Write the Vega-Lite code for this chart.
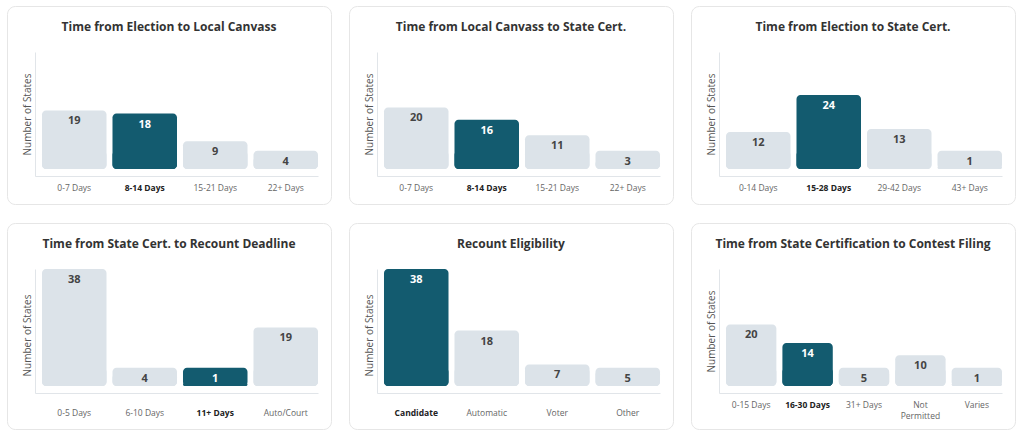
{
  "$schema": "https://vega.github.io/schema/vega-lite/v6.json",
  "background": "white",
  "padding": {"left": 6, "top": 5, "right": 10, "bottom": 20},
  "bounds": "flush",
  "datasets": {
    "p1": [
      {"cat": "0-7 Days", "n": 19, "grp": "other"},
      {"cat": "8-14 Days", "n": 18, "grp": "highlight"},
      {"cat": "15-21 Days", "n": 9, "grp": "other"},
      {"cat": "22+ Days", "n": 4, "grp": "other"}
    ],
    "p2": [
      {"cat": "0-7 Days", "n": 20, "grp": "other"},
      {"cat": "8-14 Days", "n": 16, "grp": "highlight"},
      {"cat": "15-21 Days", "n": 11, "grp": "other"},
      {"cat": "22+ Days", "n": 3, "grp": "other"}
    ],
    "p3": [
      {"cat": "0-14 Days", "n": 12, "grp": "other"},
      {"cat": "15-28 Days", "n": 24, "grp": "highlight"},
      {"cat": "29-42 Days", "n": 13, "grp": "other"},
      {"cat": "43+ Days", "n": 1, "grp": "other"}
    ],
    "p4": [
      {"cat": "0-5 Days", "n": 38, "grp": "other"},
      {"cat": "6-10 Days", "n": 4, "grp": "other"},
      {"cat": "11+ Days", "n": 1, "grp": "highlight"},
      {"cat": "Auto/Court", "n": 19, "grp": "other"}
    ],
    "p5": [
      {"cat": "Candidate", "n": 38, "grp": "highlight"},
      {"cat": "Automatic", "n": 18, "grp": "other"},
      {"cat": "Voter", "n": 7, "grp": "other"},
      {"cat": "Other", "n": 5, "grp": "other"}
    ],
    "p6": [
      {"cat": "0-15 Days", "n": 20, "grp": "other"},
      {"cat": "16-30 Days", "n": 14, "grp": "highlight"},
      {"cat": "31+ Days", "n": 5, "grp": "other"},
      {"cat": "Not Permitted", "n": 10, "grp": "other"},
      {"cat": "Varies", "n": 1, "grp": "other"}
    ]
  },
  "concat": [
    {
      "width": 324, "height": 198,
      "title": "Time from Election to Local Canvass",
      "data": {"name": "p1"},
      "layer": [
        {"mark": {"type": "bar", "cornerRadiusEnd": 4},
         "encoding": {
           "x": {"field": "cat", "type": "nominal", "sort": null,
                 "scale": {"type": "band", "range": [28, 311], "paddingInner": 0.085, "paddingOuter": 0.0496, "align": 1},
                 "axis": {"offset": -28, "labelPadding": 7,
                          "labelFontWeight": {"condition": {"test": "datum.value === '8-14 Days'", "value": "bold"}, "value": "normal"},
                          "labelColor": {"condition": {"test": "datum.value === '8-14 Days'", "value": "#222222"}, "value": "#666666"}}},
           "y": {"datum": 5.9, "type": "quantitative", "scale": {"domain": [-2.27, 38], "range": [170, 46], "nice": false, "zero": false}, "axis": {"title": "Number of States"}},
           "y2": {"datum": 0},
           "color": {"field": "grp", "type": "nominal", "scale": {"domain": ["other", "highlight"], "range": ["#dce3e9", "#135b6f"]}, "legend": null}
         }},
        {"mark": {"type": "bar", "cornerRadiusEnd": 4},
         "encoding": {
           "x": {"field": "cat", "type": "nominal", "sort": null},
           "y": {"field": "n", "type": "quantitative", "scale": {"domain": [-2.27, 38], "range": [170, 46], "nice": false, "zero": false}, "axis": null},
           "y2": {"datum": 0},
           "color": {"field": "grp", "type": "nominal", "scale": {"domain": ["other", "highlight"], "range": ["#dce3e9", "#135b6f"]}, "legend": null}
         }},
        {"mark": {"type": "text", "baseline": "top", "dy": 5, "fontWeight": "bold", "fontSize": 11},
         "encoding": {
           "x": {"field": "cat", "type": "nominal", "sort": null},
           "y": {"field": "n", "type": "quantitative", "scale": {"domain": [5.9, 38], "range": [144.8, 46], "nice": false, "zero": false, "clamp": true}, "axis": null},
           "text": {"field": "n", "type": "quantitative"},
           "color": {"field": "grp", "type": "nominal", "scale": {"domain": ["other", "highlight"], "range": ["#444444", "#ffffff"]}, "legend": null}
         }}
      ],
      "resolve": {"scale": {"y": "independent", "color": "independent"}}
    },
    {
      "width": 324, "height": 198,
      "title": "Time from Local Canvass to State Cert.",
      "data": {"name": "p2"},
      "layer": [
        {"mark": {"type": "bar", "cornerRadiusEnd": 4},
         "encoding": {
           "x": {"field": "cat", "type": "nominal", "sort": null,
                 "scale": {"type": "band", "range": [28, 311], "paddingInner": 0.085, "paddingOuter": 0.0496, "align": 1},
                 "axis": {"offset": -28, "labelPadding": 7,
                          "labelFontWeight": {"condition": {"test": "datum.value === '8-14 Days'", "value": "bold"}, "value": "normal"},
                          "labelColor": {"condition": {"test": "datum.value === '8-14 Days'", "value": "#222222"}, "value": "#666666"}}},
           "y": {"datum": 5.9, "type": "quantitative", "scale": {"domain": [-2.27, 38], "range": [170, 46], "nice": false, "zero": false}, "axis": {"title": "Number of States"}},
           "y2": {"datum": 0},
           "color": {"field": "grp", "type": "nominal", "scale": {"domain": ["other", "highlight"], "range": ["#dce3e9", "#135b6f"]}, "legend": null}
         }},
        {"mark": {"type": "bar", "cornerRadiusEnd": 4},
         "encoding": {
           "x": {"field": "cat", "type": "nominal", "sort": null},
           "y": {"field": "n", "type": "quantitative", "scale": {"domain": [-2.27, 38], "range": [170, 46], "nice": false, "zero": false}, "axis": null},
           "y2": {"datum": 0},
           "color": {"field": "grp", "type": "nominal", "scale": {"domain": ["other", "highlight"], "range": ["#dce3e9", "#135b6f"]}, "legend": null}
         }},
        {"mark": {"type": "text", "baseline": "top", "dy": 5, "fontWeight": "bold", "fontSize": 11},
         "encoding": {
           "x": {"field": "cat", "type": "nominal", "sort": null},
           "y": {"field": "n", "type": "quantitative", "scale": {"domain": [5.9, 38], "range": [144.8, 46], "nice": false, "zero": false, "clamp": true}, "axis": null},
           "text": {"field": "n", "type": "quantitative"},
           "color": {"field": "grp", "type": "nominal", "scale": {"domain": ["other", "highlight"], "range": ["#444444", "#ffffff"]}, "legend": null}
         }}
      ],
      "resolve": {"scale": {"y": "independent", "color": "independent"}}
    },
    {
      "width": 324, "height": 198,
      "title": "Time from Election to State Cert.",
      "data": {"name": "p3"},
      "layer": [
        {"mark": {"type": "bar", "cornerRadiusEnd": 4},
         "encoding": {
           "x": {"field": "cat", "type": "nominal", "sort": null,
                 "scale": {"type": "band", "range": [28, 311], "paddingInner": 0.085, "paddingOuter": 0.0496, "align": 1},
                 "axis": {"offset": -28, "labelPadding": 7,
                          "labelFontWeight": {"condition": {"test": "datum.value === '15-28 Days'", "value": "bold"}, "value": "normal"},
                          "labelColor": {"condition": {"test": "datum.value === '15-28 Days'", "value": "#222222"}, "value": "#666666"}}},
           "y": {"datum": 5.9, "type": "quantitative", "scale": {"domain": [-2.27, 38], "range": [170, 46], "nice": false, "zero": false}, "axis": {"title": "Number of States"}},
           "y2": {"datum": 0},
           "color": {"field": "grp", "type": "nominal", "scale": {"domain": ["other", "highlight"], "range": ["#dce3e9", "#135b6f"]}, "legend": null}
         }},
        {"mark": {"type": "bar", "cornerRadiusEnd": 4},
         "encoding": {
           "x": {"field": "cat", "type": "nominal", "sort": null},
           "y": {"field": "n", "type": "quantitative", "scale": {"domain": [-2.27, 38], "range": [170, 46], "nice": false, "zero": false}, "axis": null},
           "y2": {"datum": 0},
           "color": {"field": "grp", "type": "nominal", "scale": {"domain": ["other", "highlight"], "range": ["#dce3e9", "#135b6f"]}, "legend": null}
         }},
        {"mark": {"type": "text", "baseline": "top", "dy": 5, "fontWeight": "bold", "fontSize": 11},
         "encoding": {
           "x": {"field": "cat", "type": "nominal", "sort": null},
           "y": {"field": "n", "type": "quantitative", "scale": {"domain": [5.9, 38], "range": [144.8, 46], "nice": false, "zero": false, "clamp": true}, "axis": null},
           "text": {"field": "n", "type": "quantitative"},
           "color": {"field": "grp", "type": "nominal", "scale": {"domain": ["other", "highlight"], "range": ["#444444", "#ffffff"]}, "legend": null}
         }}
      ],
      "resolve": {"scale": {"y": "independent", "color": "independent"}}
    },
    {
      "width": 324, "height": 206,
      "title": "Time from State Cert. to Recount Deadline",
      "data": {"name": "p4"},
      "layer": [
        {"mark": {"type": "bar", "cornerRadiusEnd": 4},
         "encoding": {
           "x": {"field": "cat", "type": "nominal", "sort": null,
                 "scale": {"type": "band", "range": [28, 311], "paddingInner": 0.085, "paddingOuter": 0.0496, "align": 1},
                 "axis": {"offset": -36, "labelPadding": 15,
                          "labelFontWeight": {"condition": {"test": "datum.value === '11+ Days'", "value": "bold"}, "value": "normal"},
                          "labelColor": {"condition": {"test": "datum.value === '11+ Days'", "value": "#222222"}, "value": "#666666"}}},
           "y": {"datum": 5.9, "type": "quantitative", "scale": {"domain": [-2.27, 38], "range": [170, 46], "nice": false, "zero": false}, "axis": {"title": "Number of States", "titleY": 112}},
           "y2": {"datum": 0},
           "color": {"field": "grp", "type": "nominal", "scale": {"domain": ["other", "highlight"], "range": ["#dce3e9", "#135b6f"]}, "legend": null}
         }},
        {"mark": {"type": "bar", "cornerRadiusEnd": 4},
         "encoding": {
           "x": {"field": "cat", "type": "nominal", "sort": null},
           "y": {"field": "n", "type": "quantitative", "scale": {"domain": [-2.27, 38], "range": [170, 46], "nice": false, "zero": false}, "axis": null},
           "y2": {"datum": 0},
           "color": {"field": "grp", "type": "nominal", "scale": {"domain": ["other", "highlight"], "range": ["#dce3e9", "#135b6f"]}, "legend": null}
         }},
        {"mark": {"type": "text", "baseline": "top", "dy": 5, "fontWeight": "bold", "fontSize": 11},
         "encoding": {
           "x": {"field": "cat", "type": "nominal", "sort": null},
           "y": {"field": "n", "type": "quantitative", "scale": {"domain": [5.9, 38], "range": [144.8, 46], "nice": false, "zero": false, "clamp": true}, "axis": null},
           "text": {"field": "n", "type": "quantitative"},
           "color": {"field": "grp", "type": "nominal", "scale": {"domain": ["other", "highlight"], "range": ["#444444", "#ffffff"]}, "legend": null}
         }}
      ],
      "resolve": {"scale": {"y": "independent", "color": "independent"}}
    },
    {
      "width": 324, "height": 206,
      "title": "Recount Eligibility",
      "data": {"name": "p5"},
      "layer": [
        {"mark": {"type": "bar", "cornerRadiusEnd": 4},
         "encoding": {
           "x": {"field": "cat", "type": "nominal", "sort": null,
                 "scale": {"type": "band", "range": [28, 311], "paddingInner": 0.085, "paddingOuter": 0.0496, "align": 1},
                 "axis": {"offset": -36, "labelPadding": 15,
                          "labelFontWeight": {"condition": {"test": "datum.value === 'Candidate'", "value": "bold"}, "value": "normal"},
                          "labelColor": {"condition": {"test": "datum.value === 'Candidate'", "value": "#222222"}, "value": "#666666"}}},
           "y": {"datum": 5.9, "type": "quantitative", "scale": {"domain": [-2.27, 38], "range": [170, 46], "nice": false, "zero": false}, "axis": {"title": "Number of States", "titleY": 112}},
           "y2": {"datum": 0},
           "color": {"field": "grp", "type": "nominal", "scale": {"domain": ["other", "highlight"], "range": ["#dce3e9", "#135b6f"]}, "legend": null}
         }},
        {"mark": {"type": "bar", "cornerRadiusEnd": 4},
         "encoding": {
           "x": {"field": "cat", "type": "nominal", "sort": null},
           "y": {"field": "n", "type": "quantitative", "scale": {"domain": [-2.27, 38], "range": [170, 46], "nice": false, "zero": false}, "axis": null},
           "y2": {"datum": 0},
           "color": {"field": "grp", "type": "nominal", "scale": {"domain": ["other", "highlight"], "range": ["#dce3e9", "#135b6f"]}, "legend": null}
         }},
        {"mark": {"type": "text", "baseline": "top", "dy": 5, "fontWeight": "bold", "fontSize": 11},
         "encoding": {
           "x": {"field": "cat", "type": "nominal", "sort": null},
           "y": {"field": "n", "type": "quantitative", "scale": {"domain": [5.9, 38], "range": [144.8, 46], "nice": false, "zero": false, "clamp": true}, "axis": null},
           "text": {"field": "n", "type": "quantitative"},
           "color": {"field": "grp", "type": "nominal", "scale": {"domain": ["other", "highlight"], "range": ["#444444", "#ffffff"]}, "legend": null}
         }}
      ],
      "resolve": {"scale": {"y": "independent", "color": "independent"}}
    },
    {
      "width": 324, "height": 206,
      "title": "Time from State Certification to Contest Filing",
      "data": {"name": "p6"},
      "layer": [
        {"mark": {"type": "bar", "cornerRadiusEnd": 4},
         "encoding": {
           "x": {"field": "cat", "type": "nominal", "sort": null,
                 "scale": {"type": "band", "range": [28, 311], "paddingInner": 0.107, "paddingOuter": 0.062, "align": 1},
                 "axis": {"offset": -36, "labelPadding": 7, "labelLineHeight": 11,
                          "labelExpr": "datum.value === 'Not Permitted' ? ['Not', 'Permitted'] : datum.label",
                          "labelFontWeight": {"condition": {"test": "datum.value === '16-30 Days'", "value": "bold"}, "value": "normal"},
                          "labelColor": {"condition": {"test": "datum.value === '16-30 Days'", "value": "#222222"}, "value": "#666666"}}},
           "y": {"datum": 5.9, "type": "quantitative", "scale": {"domain": [-2.27, 38], "range": [170, 46], "nice": false, "zero": false}, "axis": {"title": "Number of States"}},
           "y2": {"datum": 0},
           "color": {"field": "grp", "type": "nominal", "scale": {"domain": ["other", "highlight"], "range": ["#dce3e9", "#135b6f"]}, "legend": null}
         }},
        {"mark": {"type": "bar", "cornerRadiusEnd": 4},
         "encoding": {
           "x": {"field": "cat", "type": "nominal", "sort": null},
           "y": {"field": "n", "type": "quantitative", "scale": {"domain": [-2.27, 38], "range": [170, 46], "nice": false, "zero": false}, "axis": null},
           "y2": {"datum": 0},
           "color": {"field": "grp", "type": "nominal", "scale": {"domain": ["other", "highlight"], "range": ["#dce3e9", "#135b6f"]}, "legend": null}
         }},
        {"mark": {"type": "text", "baseline": "top", "dy": 5, "fontWeight": "bold", "fontSize": 11},
         "encoding": {
           "x": {"field": "cat", "type": "nominal", "sort": null},
           "y": {"field": "n", "type": "quantitative", "scale": {"domain": [5.9, 38], "range": [144.8, 46], "nice": false, "zero": false, "clamp": true}, "axis": null},
           "text": {"field": "n", "type": "quantitative"},
           "color": {"field": "grp", "type": "nominal", "scale": {"domain": ["other", "highlight"], "range": ["#444444", "#ffffff"]}, "legend": null}
         }}
      ],
      "resolve": {"scale": {"y": "independent", "color": "independent"}}
    }
  ],
  "columns": 3,
  "spacing": {"row": 19, "column": 18},
  "config": {
    "font": "Open Sans",
    "view": {"fill": "white", "stroke": "#e6e6e6", "strokeWidth": 1, "cornerRadius": 8},
    "title": {"fontSize": 12, "fontWeight": "bold", "color": "#333333", "anchor": "middle", "offset": -28, "frame": "group"},
    "axisX": {"title": null, "domainColor": "#e1e5e9", "domainWidth": 1, "ticks": false, "tickSize": 0, "grid": false, "labelAngle": 0, "labelFontSize": 8.5, "labelBaseline": "top"},
    "axisY": {"domainColor": "#e1e5e9", "domainWidth": 1, "ticks": false, "tickSize": 0, "labels": false, "grid": false, "offset": -28, "titleFontSize": 10, "titleFontWeight": "normal", "titleColor": "#555555", "titlePadding": 3}
  }
}
